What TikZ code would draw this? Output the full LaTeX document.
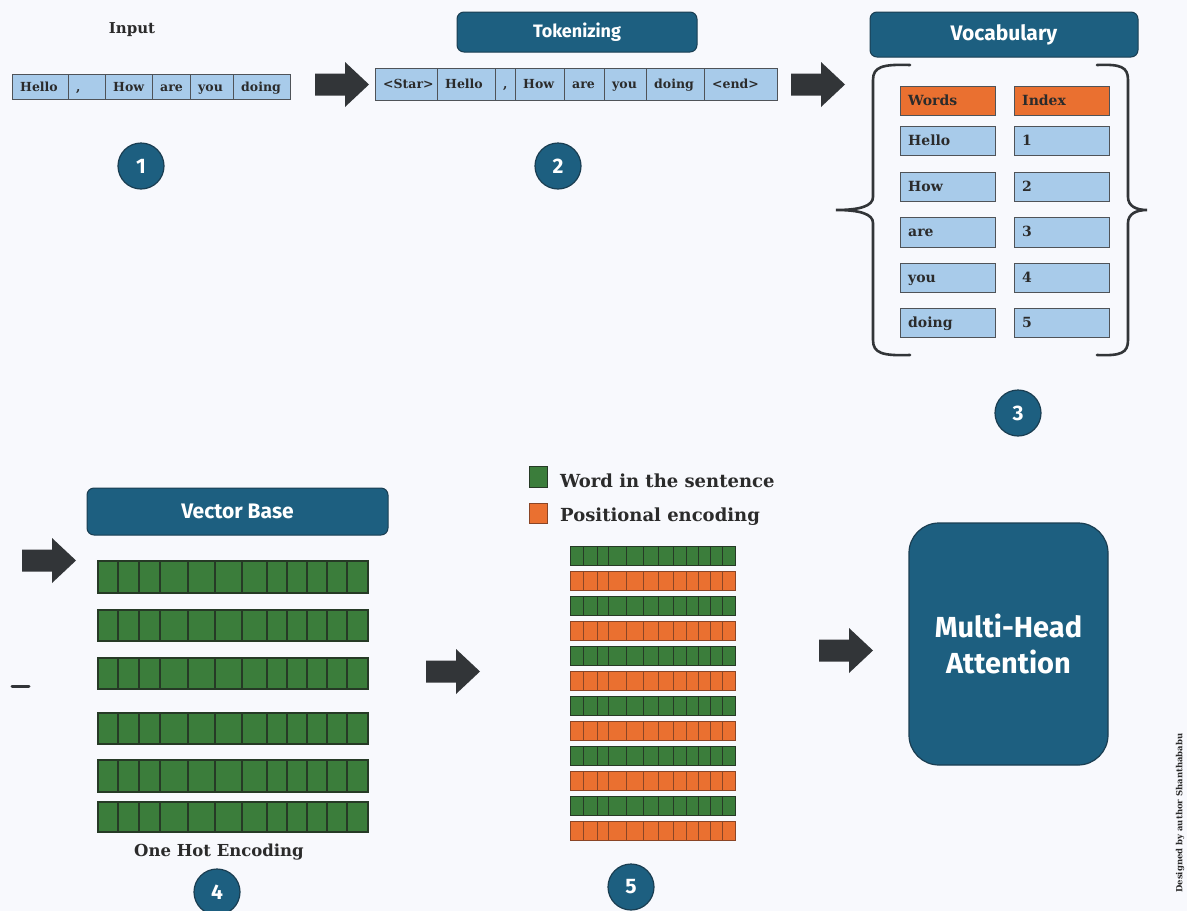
\documentclass[tikz,border=0pt]{standalone}
\usepackage{fontspec}
\setmainfont{DejaVu Serif}
\newfontfamily\hdrfont{Fira Sans}
\usetikzlibrary{calc}

\definecolor{bgcol}{HTML}{F8F9FD}
\definecolor{tealbox}{HTML}{1D5F80}
\definecolor{tealline}{HTML}{1A3E52}
\definecolor{cellblue}{HTML}{A8CBEA}
\definecolor{cellline}{HTML}{4F5358}
\definecolor{textdark}{HTML}{2B2B2B}
\definecolor{orangecol}{HTML}{EA7030}
\definecolor{orangeline}{HTML}{8A4526}
\definecolor{greencol}{HTML}{3B7D3B}
\definecolor{greenline}{HTML}{263A26}
\definecolor{arrowcol}{HTML}{323538}

\tikzset{
  tokcell/.style={draw=cellline, fill=cellblue, line width=1.2pt, inner sep=0pt},
  headcell/.style={draw=cellline, fill=orangecol, line width=1.2pt, inner sep=0pt},
  celltext/.style={font=\bfseries\fontsize{12.5}{12.5}\selectfont, text=textdark, inner sep=0pt,
    text height=9pt, text depth=3pt},
  vocabtext/.style={font=\bfseries\fontsize{14}{14}\selectfont, text=textdark, inner sep=0pt,
    text height=10pt, text depth=3.5pt},
  hdr/.style={draw=tealline, fill=tealbox, rounded corners=7pt, line width=1pt,
    text=white, font=\hdrfont\bfseries\fontsize{#1}{#1}\selectfont, inner sep=0pt},
  stepnum/.style={circle, fill=tealbox, draw=tealline, line width=1.2pt, minimum size=46pt,
    inner sep=0pt, text=white, font=\hdrfont\bfseries\fontsize{21}{21}\selectfont},
  serifbold/.style={font=\bfseries\fontsize{#1}{#1}\selectfont, text=textdark, inner sep=0pt},
  bracest/.style={draw=arrowcol, line width=2.6pt, line cap=round},
  blockarrow/.pic={\fill[arrowcol] (0,-11) -- (30,-11) -- (30,-22.5) -- (54,0) -- (30,22.5) -- (30,11) -- (0,11) -- cycle;}
}

% a rectangular cell with left-aligned text: name, x1, x2, ytop, ybottom, style, text
\newcommand\cellbox[7]{%
  \node[#6, anchor=north west, minimum width={#3-#2}, minimum height={#5-#4}] (#1) at (#2,#4) {};
  \node[anchor=west] at ([xshift=8pt,yshift=-1pt]#1.west) {#7};}

% a row of vector cells: pairs of x edges, ytop, ybottom, fill, line colour, line width
\newcommand\cellrow[6]{%
  \foreach \a/\b in {#1} {\draw[fill=#4, draw=#5, line width=#6] (\a,#2) rectangle (\b,#3);}}

\begin{document}
\begin{tikzpicture}[x=1pt, y=-1pt]
\useasboundingbox (0,0) rectangle (1187,911);
\fill[bgcol] (0,0) rectangle (1187,911);

% ---------- 1: input sentence ----------
\node[serifbold=15] (inputlbl) at (132,30) {Input};
\begin{scope}[every node/.append style={celltext}]
\cellbox{i1}{12}{68}{74}{99}{tokcell}{Hello}
\cellbox{i2}{68}{105}{74}{99}{tokcell}{,}
\cellbox{i3}{105}{152}{74}{99}{tokcell}{How}
\cellbox{i4}{152}{190}{74}{99}{tokcell}{are}
\cellbox{i5}{190}{233}{74}{99}{tokcell}{you}
\cellbox{i6}{233}{290}{74}{99}{tokcell}{doing}
\end{scope}
\node[stepnum] (n1) at (141,166) {1};
\pic at (315,84.5) {blockarrow};

% ---------- 2: tokens ----------
\node[hdr=18, minimum width=240pt, minimum height=40pt] (tokhdr) at (577,32) {Tokenizing};
\begin{scope}[every node/.append style={celltext}]
\cellbox{t1}{375}{437}{68}{100}{tokcell}{<Star>}
\cellbox{t2}{437}{495}{68}{100}{tokcell}{Hello}
\cellbox{t3}{495}{515}{68}{100}{tokcell}{,}
\cellbox{t4}{515}{564}{68}{100}{tokcell}{How}
\cellbox{t5}{564}{604}{68}{100}{tokcell}{are}
\cellbox{t6}{604}{646}{68}{100}{tokcell}{you}
\cellbox{t7}{646}{704}{68}{100}{tokcell}{doing}
\cellbox{t8}{704}{777}{68}{100}{tokcell}{<end>}
\end{scope}
\node[stepnum] (n2) at (558,166) {2};
\pic at (791,84.5) {blockarrow};

% ---------- 3: vocabulary ----------
\node[hdr=21, minimum width=268pt, minimum height=45pt] (vochdr) at (1004,34.5) {Vocabulary};
\begin{scope}[every node/.append style={vocabtext}]
\cellbox{w0}{900}{995}{86}{115}{headcell}{Words}
\cellbox{x0}{1014}{1109}{86}{115}{headcell}{Index}
\cellbox{w1}{900}{995}{126}{155}{tokcell}{Hello}
\cellbox{x1}{1014}{1109}{126}{155}{tokcell}{1}
\cellbox{w2}{900}{995}{172}{201}{tokcell}{How}
\cellbox{x2}{1014}{1109}{172}{201}{tokcell}{2}
\cellbox{w3}{900}{995}{217}{247}{tokcell}{are}
\cellbox{x3}{1014}{1109}{217}{247}{tokcell}{3}
\cellbox{w4}{900}{995}{263}{292}{tokcell}{you}
\cellbox{x4}{1014}{1109}{263}{292}{tokcell}{4}
\cellbox{w5}{900}{995}{308}{337}{tokcell}{doing}
\cellbox{x5}{1014}{1109}{308}{337}{tokcell}{5}
\end{scope}
% braces around the table
\draw[bracest] (910,65) .. controls (882,64) and (873,67) .. (873,80) -- (873,197)
  .. controls (873,206) and (860,210) .. (836,210)
  .. controls (860,210) and (873,214) .. (873,223) -- (873,340)
  .. controls (873,353) and (882,356) .. (910,355);
\draw[bracest] (1097,65) .. controls (1121,64) and (1128,67) .. (1128,80) -- (1128,197)
  .. controls (1128,206) and (1136,210) .. (1147,210)
  .. controls (1136,210) and (1128,214) .. (1128,223) -- (1128,340)
  .. controls (1128,353) and (1121,356) .. (1097,355);
\node[stepnum] (n3) at (1018,413) {3};

% ---------- 4: one hot encoding ----------
\node[hdr=21, minimum width=301pt, minimum height=47pt] (vbhdr) at (237.5,511.5) {Vector Base};
\pic at (22,560.5) {blockarrow};
\draw[arrowcol, line width=3pt, line cap=round] (12,686) -- (29,686);
\foreach \yt/\yb in {561/593, 610/641, 658/689, 713/744, 760/792, 802/832} {
  \cellrow{98/118,118/139,139/160,160/188,188/215,215/242,242/267,267/287,287/307,307/327,327/347,347/368}{\yt}{\yb}{greencol}{greenline}{1.5pt}
}
\node[serifbold=16.5] (ohe) at (219,852) {One Hot Encoding};
\node[stepnum] (n4) at (217,892) {4};

\pic at (426,671.5) {blockarrow};

% ---------- 5: positional encoding ----------
\draw[fill=greencol, draw=greenline, line width=1pt] (529,466) rectangle (547,487);
\draw[fill=orangecol, draw=orangeline, line width=1pt] (529,503) rectangle (547,523);
\node[serifbold=18, anchor=west] (lg1) at (560,481) {Word in the sentence};
\node[serifbold=18, anchor=west] (lg2) at (560,517) {Positional encoding};
\foreach \i in {0,...,11} {
  \pgfmathsetmacro\yt{546+25*\i}
  \pgfmathsetmacro\yb{565+25*\i}
  \ifodd\i
    \cellrow{570/583,583/597,597/608,608/626,626/643,643/658,658/673,673/686,686/698,698/710,710/722,722/735}{\yt}{\yb}{orangecol}{orangeline}{1pt}
  \else
    \cellrow{570/583,583/597,597/608,608/626,626/643,643/658,658/673,673/686,686/698,698/710,710/722,722/735}{\yt}{\yb}{greencol}{greenline}{1pt}
  \fi
}
\node[stepnum] (n5) at (631,887) {5};

% ---------- attention ----------
\pic at (819,650.5) {blockarrow};
\node[draw=tealline, fill=tealbox, line width=1.2pt, rounded corners=30pt,
  minimum width=199pt, minimum height=242pt, text=white, align=center,
  font=\hdrfont\bfseries\fontsize{29}{36}\selectfont] (mha) at (1008.5,644) {Multi-Head\\Attention};

\node[serifbold=8.5, rotate=90] (credit) at (1180,813) {Designed by author Shanthababu};
\end{tikzpicture}
\end{document}
